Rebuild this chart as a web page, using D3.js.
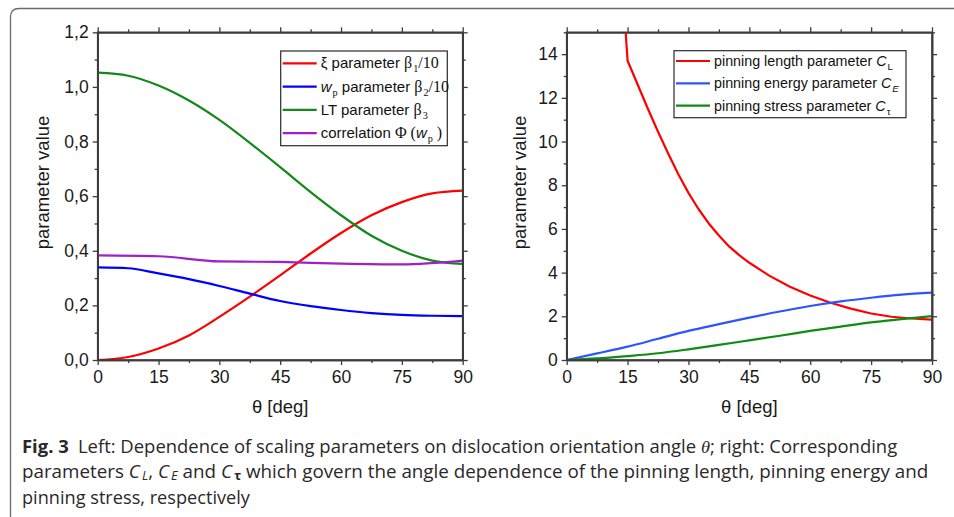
<!DOCTYPE html>
<html>
<head>
<meta charset="utf-8">
<script src="https://cdn.jsdelivr.net/npm/d3@7"></script>
<style>
  body { margin: 0; background: #fff; }
  svg { display: block; }
</style>
</head>
<body>
<div id="chart"></div>
<script>
// ---- data ----
var theta = [0, 7.5, 15, 22.5, 30, 37.5, 45, 52.5, 60, 67.5, 75, 82.5, 90];
var xiBeta1 = [0, 0.011, 0.042, 0.09, 0.158, 0.232, 0.31, 0.39, 0.465, 0.53, 0.578, 0.61, 0.62];
var wpBeta2 = [0.339, 0.336, 0.317, 0.296, 0.271, 0.243, 0.216, 0.197, 0.183, 0.172, 0.165, 0.162, 0.161];
var ltBeta3 = [1.052, 1.041, 1.005, 0.95, 0.879, 0.795, 0.706, 0.615, 0.53, 0.455, 0.4, 0.364, 0.352];
var thetaPhi = [0, 15, 30, 45, 60, 75, 90];
var phiWp = [0.383, 0.38, 0.361, 0.359, 0.353, 0.35, 0.364];

var thetaCL = [10, 15, 17.5, 20, 22.5, 25, 27.5, 30, 32.5, 35, 37.5, 40, 42.5, 45, 50, 55, 60, 65, 70, 75, 80, 85, 90];
var cL = [27.5, 13.7, 12.6, 11.5, 10.45, 9.45, 8.5, 7.65, 6.9, 6.25, 5.7, 5.2, 4.8, 4.45, 3.85, 3.35, 2.95, 2.62, 2.35, 2.13, 1.98, 1.9, 1.85];
var cE = [0, 0.3, 0.61, 0.97, 1.33, 1.64, 1.94, 2.22, 2.47, 2.68, 2.85, 2.99, 3.08];
var cTau = [0, 0.07, 0.18, 0.31, 0.49, 0.69, 0.9, 1.11, 1.33, 1.53, 1.72, 1.87, 2.01];

var xTicks = [0, 15, 30, 45, 60, 75, 90];
var leftYTicks = [0, 0.2, 0.4, 0.6, 0.8, 1.0, 1.2];
var rightYTicks = [0, 2, 4, 6, 8, 10, 12, 14];

var W = 954, H = 517;
var SANS = "'Liberation Sans', Arial, sans-serif";
var SERIF = "'Liberation Serif', 'Times New Roman', serif";

var svg = d3.select("#chart").append("svg")
    .attr("width", W)
    .attr("height", H);

// outer rounded frame (bottom & right run off the page)
svg.append("path")
    .attr("d", "M10.5," + (H + 5) + " L10.5,17 Q10.5,8.5 19,8.5 L" + (W + 5) + ",8.5")
    .attr("fill", "none")
    .attr("stroke", "#6a6a6a")
    .attr("stroke-width", 1.3);

function drawPanel(opts) {
    var x = d3.scaleLinear().domain([0, 90]).range([opts.x0, opts.x1]);
    var y = d3.scaleLinear().domain(opts.yDomain).range([opts.y1, opts.y0]);
    var g = svg.append("g");

    var clipId = "clip" + opts.id;
    svg.append("clipPath").attr("id", clipId)
        .append("rect")
        .attr("x", opts.x0).attr("y", opts.y0)
        .attr("width", opts.x1 - opts.x0).attr("height", opts.y1 - opts.y0);

    var xMinor = d3.range(0, 90.1, 7.5).filter(function (d) { return d % 15 !== 0; });
    var yMinor = opts.yMinor;

    function styleAxis(sel) {
        sel.selectAll("path").attr("stroke", "#3c3c3c").attr("stroke-width", 1.6);
        sel.selectAll("line").attr("stroke", "#3c3c3c").attr("stroke-width", 1.3);
        sel.selectAll("text").attr("font-family", SANS).attr("font-size", 17.5).attr("fill", "#1a1a1a");
    }

    // minor ticks
    [[d3.axisBottom(x), opts.y1], [d3.axisTop(x), opts.y0]].forEach(function (a) {
        g.append("g").attr("transform", "translate(0," + a[1] + ")")
            .call(a[0].tickValues(xMinor).tickSize(3).tickSizeOuter(0).tickFormat(""))
            .call(styleAxis);
    });
    [[d3.axisLeft(y), opts.x0], [d3.axisRight(y), opts.x1]].forEach(function (a) {
        g.append("g").attr("transform", "translate(" + a[1] + ",0)")
            .call(a[0].tickValues(yMinor).tickSize(3).tickSizeOuter(0).tickFormat(""))
            .call(styleAxis);
    });

    // major ticks
    g.append("g").attr("transform", "translate(0," + opts.y1 + ")")
        .call(d3.axisBottom(x).tickValues(xTicks).tickSize(5).tickSizeOuter(0).tickPadding(6))
        .call(styleAxis);
    g.append("g").attr("transform", "translate(0," + opts.y0 + ")")
        .call(d3.axisTop(x).tickValues(xTicks).tickSize(5).tickSizeOuter(0).tickFormat(""))
        .call(styleAxis);
    g.append("g").attr("transform", "translate(" + opts.x0 + ",0)")
        .call(d3.axisLeft(y).tickValues(opts.yTicks).tickSize(5).tickSizeOuter(0).tickPadding(4).tickFormat(opts.yFormat))
        .call(styleAxis);
    g.append("g").attr("transform", "translate(" + opts.x1 + ",0)")
        .call(d3.axisRight(y).tickValues(opts.yTicks).tickSize(5).tickSizeOuter(0).tickFormat(""))
        .call(styleAxis);

    // axis titles
    svg.append("text")
        .attr("transform", "translate(" + opts.yTitleX + ",182.5) rotate(-90)")
        .attr("text-anchor", "middle")
        .attr("dy", "0.35em")
        .attr("font-family", SANS)
        .attr("font-size", 18.5)
        .attr("fill", "#1a1a1a")
        .text("parameter value");
    svg.append("text")
        .attr("x", (opts.x0 + opts.x1) / 2)
        .attr("y", 413)
        .attr("text-anchor", "middle")
        .attr("font-family", SANS)
        .attr("font-size", 18.5)
        .attr("fill", "#1a1a1a")
        .text("\u03b8 [deg]");

    // series
    var lines = svg.append("g").attr("clip-path", "url(#" + clipId + ")");
    opts.series.forEach(function (s) {
        var line = d3.line()
            .x(function (d, i) { return x(s.xs[i]); })
            .y(function (d) { return y(d); })
            .curve(s.curve || d3.curveMonotoneX);
        lines.append("path")
            .datum(s.values)
            .attr("d", line)
            .attr("fill", "none")
            .attr("stroke", s.color)
            .attr("stroke-width", 2.2)
            .attr("stroke-linejoin", "round");
    });

    // box on top of the lines
    svg.append("rect")
        .attr("x", opts.x0).attr("y", opts.y0)
        .attr("width", opts.x1 - opts.x0).attr("height", opts.y1 - opts.y0)
        .attr("fill", "none")
        .attr("stroke", "#3c3c3c")
        .attr("stroke-width", 1.6);

    // legend
    var lg = svg.append("g");
    lg.append("rect")
        .attr("x", opts.legend.x).attr("y", opts.legend.y)
        .attr("width", opts.legend.w).attr("height", opts.legend.h)
        .attr("fill", "#fff")
        .attr("stroke", "#2a2a2a")
        .attr("stroke-width", 1.2);
    opts.series.forEach(function (s, i) {
        var yy = opts.legend.y + opts.legend.first + i * opts.legend.step;
        lg.append("line")
            .attr("x1", opts.legend.x + 2).attr("x2", opts.legend.x + 36)
            .attr("y1", yy).attr("y2", yy)
            .attr("stroke", s.color)
            .attr("stroke-width", 2.2);
        richText(lg.append("text")
            .attr("x", opts.legend.x + 40)
            .attr("y", yy + 5)
            .attr("font-family", SANS)
            .attr("font-size", opts.legend.font)
            .attr("fill", "#111"), s.label, 1, 4);
    });
}

// build a text from segments with sub-scripts and font changes
function richText(text, segs, subGap, subDrop) {
    var shift = 0;
    segs.forEach(function (s) {
        var target = s.sub ? subDrop : 0;
        var t = text.append("tspan")
            .attr("dy", target - shift)
            .text(s.t);
        shift = target;
        if (s.sub) t.attr("dx", subGap);
        if (s.serif) t.attr("font-family", SERIF);
        if (s.italic) t.attr("font-style", "italic");
        if (s.bold) t.attr("font-weight", "bold");
        if (s.sub) t.attr("font-size", "0.68em");
        if (s.size) t.attr("font-size", s.size);
    });
    return text;
}

drawPanel({
    id: "L",
    x0: 97.7, x1: 462.7, y0: 32.3, y1: 360,
    yDomain: [0, 1.2],
    yTicks: leftYTicks,
    yMinor: [0.1, 0.3, 0.5, 0.7, 0.9, 1.1],
    yFormat: function (d) { return d3.format(".1f")(d).replace(".", ","); },
    yTitleX: 42.5,
    legend: { x: 280.7, y: 51, w: 166.6, h: 94.7, first: 12.3, step: 23.3, font: 15 },
    series: [
        { xs: theta, values: xiBeta1, color: "#ff0000",
          label: [{ t: "\u03be parameter " }, { t: "\u03b2", serif: true, size: 16 }, { t: "1", serif: true, sub: true }, { t: "/10", serif: true, size: 16 }] },
        { xs: theta, values: wpBeta2, color: "#0000ff",
          label: [{ t: "w", italic: true }, { t: "p", serif: true, sub: true }, { t: " parameter " }, { t: "\u03b2", serif: true, size: 16 }, { t: "2", serif: true, sub: true }, { t: "/10", serif: true, size: 16 }] },
        { xs: theta, values: ltBeta3, color: "#14891a",
          label: [{ t: "LT parameter " }, { t: "\u03b2", serif: true, size: 16 }, { t: "3", serif: true, sub: true }] },
        { xs: thetaPhi, values: phiWp, color: "#a01fc8",
          label: [{ t: "correlation  " }, { t: "\u03a6 (", serif: true, size: 16 }, { t: "w", italic: true }, { t: "p", serif: true, sub: true }, { t: " )", serif: true, size: 16 }] }
    ]
});

drawPanel({
    id: "R",
    x0: 566.7, x1: 932, y0: 32.3, y1: 360,
    yDomain: [0, 15],
    yTicks: rightYTicks,
    yMinor: [1, 3, 5, 7, 9, 11, 13, 15],
    yFormat: d3.format("d"),
    yTitleX: 519.5,
    legend: { x: 674, y: 50.7, w: 232, h: 67, first: 10.3, step: 22.3, font: 14.3 },
    series: [
        { xs: thetaCL, values: cL, color: "#ff0000", curve: d3.curveLinear,
          label: [{ t: "pinning length parameter " }, { t: "C", italic: true }, { t: "L", sub: true }] },
        { xs: theta, values: cE, color: "#2b55ff",
          label: [{ t: "pinning energy parameter " }, { t: "C", italic: true }, { t: "E", italic: true, sub: true }] },
        { xs: theta, values: cTau, color: "#0e8c14",
          label: [{ t: "pinning stress parameter " }, { t: "C", italic: true }, { t: "\u03c4", sub: true }] }
    ]
});

// caption: each line squeezed horizontally to the width it has in the figure
var CAP = "'Open Sans', 'Noto Sans', sans-serif";
var captionLines = [
    { y: 453, w: 876, segs: [{ t: "Fig. 3", bold: true }, { t: "\u2002Left: Dependence of scaling parameters on dislocation orientation angle " }, { t: "\u03b8", italic: true, serif: true }, { t: "; right: Corresponding" }] },
    { y: 477.5, w: 900, segs: [{ t: "parameters " }, { t: "C", italic: true }, { t: "L", italic: true, sub: true }, { t: ", " }, { t: "C", italic: true }, { t: "E", italic: true, sub: true }, { t: " and " }, { t: "C", italic: true }, { t: "\u03c4", bold: true, sub: true }, { t: " which govern the angle dependence of the pinning length, pinning energy and" }] },
    { y: 503.5, w: 228, segs: [{ t: "pinning stress, respectively" }] }
];
captionLines.forEach(function (c) {
    var t = svg.append("text")
        .attr("x", 0)
        .attr("y", 0)
        .attr("font-family", CAP)
        .attr("font-size", 17.5)
        .attr("fill", "#2b2829");
    richText(t, c.segs, 2, 2.5);
    var w = t.node().getComputedTextLength() || c.w;
    t.attr("transform", "translate(22," + c.y + ") scale(" + (c.w / w) + ",1)");
});
</script>
</body>
</html>
